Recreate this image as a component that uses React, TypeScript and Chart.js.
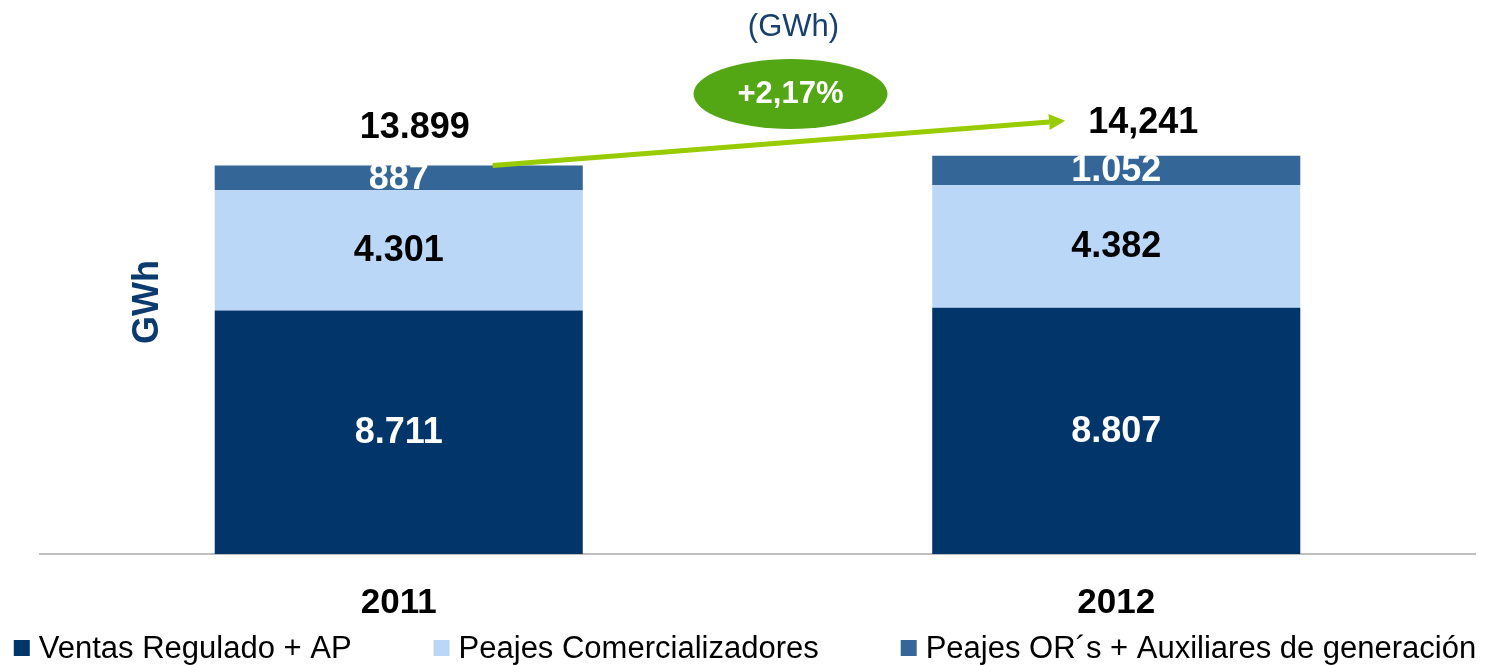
import { useEffect, useRef } from "react";
import { Chart, registerables } from "chart.js";
Chart.register(...registerables);

const categories = ["2011", "2012"];
const ventasRegulado = [8711, 8807];
const peajesComercializadores = [4301, 4382];
const peajesOR = [887, 1052];
const segmentLabels = [
  ["8.711", "8.807"],
  ["4.301", "4.382"],
  ["887", "1.052"],
];
const totalLabels = ["13.899", "14,241"];
const seriesNames = [
  "Ventas Regulado + AP",
  "Peajes Comercializadores",
  "Peajes OR´s + Auxiliares de generación",
];
const growthLabel = "+2,17%";
const unitTitle = "(GWh)";
const axisTitle = "GWh";

const FONT = "'Liberation Sans', Arial, sans-serif";
const NAVY = "#02356A";
const LIGHT = "#BBD7F7";
const MID = "#346797";
const seriesColors = [NAVY, LIGHT, MID];

const overlay = {
  id: "overlay",
  afterDatasetsDraw(chart: any) {
    const ctx = chart.ctx;
    const area = chart.chartArea;
    ctx.save();
    // segment labels
    chart.data.datasets.forEach((_: any, di: number) => {
      const meta = chart.getDatasetMeta(di);
      meta.data.forEach((el: any, i: number) => {
        const cy = (el.y + el.base) / 2;
        ctx.font = `bold 36px ${FONT}`;
        ctx.fillStyle = di === 1 ? "#000000" : "#FFFFFF";
        ctx.textAlign = "center";
        ctx.textBaseline = "middle";
        ctx.fillText(segmentLabels[di][i], el.x, cy + 1);
      });
    });
    const topMeta = chart.getDatasetMeta(chart.data.datasets.length - 1);
    const b0 = topMeta.data[0];
    const b1 = topMeta.data[1];
    // totals
    ctx.font = `bold 36px ${FONT}`;
    ctx.fillStyle = "#000000";
    ctx.textAlign = "center";
    ctx.textBaseline = "middle";
    ctx.fillText(totalLabels[0], b0.x + 16, b0.y - 37);
    ctx.fillText(totalLabels[1], b1.x + 27, b1.y - 33);
    // arrow
    const sx = b0.x + b0.width * 0.255;
    const sy = b0.y;
    const ex = b1.x - b1.width * 0.139;
    const ey = b1.y - 35;
    const ang = Math.atan2(ey - sy, ex - sx);
    const headLen = 16;
    ctx.strokeStyle = "#99CC00";
    ctx.fillStyle = "#99CC00";
    ctx.lineWidth = 5;
    ctx.beginPath();
    ctx.moveTo(sx, sy);
    ctx.lineTo(ex - headLen * Math.cos(ang), ey - headLen * Math.sin(ang));
    ctx.stroke();
    ctx.beginPath();
    ctx.moveTo(ex, ey);
    ctx.lineTo(
      ex - headLen * Math.cos(ang) + 8 * Math.sin(ang),
      ey - headLen * Math.sin(ang) - 8 * Math.cos(ang)
    );
    ctx.lineTo(
      ex - headLen * Math.cos(ang) - 8 * Math.sin(ang),
      ey - headLen * Math.sin(ang) + 8 * Math.cos(ang)
    );
    ctx.closePath();
    ctx.fill();
    // ellipse
    const midX = (b0.x + b1.x) / 2;
    const ecx = midX + 33;
    const ecy = area.top + 74;
    ctx.fillStyle = "#53A614";
    ctx.beginPath();
    ctx.ellipse(ecx, ecy, 97, 35, 0, 0, Math.PI * 2);
    ctx.fill();
    ctx.font = `bold 31px ${FONT}`;
    ctx.fillStyle = "#FFFFFF";
    ctx.fillText(growthLabel, ecx, ecy);
    // unit title
    ctx.font = `31px ${FONT}`;
    ctx.fillStyle = "#17406E";
    ctx.fillText(unitTitle, midX + 36, 27);
    // legend (manual)
    ctx.font = `31px ${FONT}`;
    const box = 16;
    const textGap = 9;
    const itemGap = 82;
    const widths = seriesNames.map((n) => ctx.measureText(n).width);
    const total =
      widths.reduce((a, b) => a + b, 0) + seriesNames.length * (box + textGap) + itemGap * (seriesNames.length - 1);
    let lx = (chart.width - total) / 2 - 4;
    const ly = 648;
    ctx.textAlign = "left";
    ctx.textBaseline = "middle";
    seriesNames.forEach((n, i) => {
      ctx.fillStyle = seriesColors[i];
      ctx.fillRect(lx, ly - box / 2, box, box);
      ctx.fillStyle = "#000000";
      ctx.fillText(n, lx + box + textGap, ly + 1);
      lx += box + textGap + widths[i] + itemGap;
    });
    // axis title
    ctx.textAlign = "center";
    ctx.translate(148, 302);
    ctx.rotate(-Math.PI / 2);
    ctx.font = `bold 36px ${FONT}`;
    ctx.fillStyle = "#0B3A6E";
    ctx.fillText(axisTitle, 0, 0);
    ctx.restore();
  },
};

export default function App() {
  const ref = useRef<HTMLCanvasElement | null>(null);
  useEffect(() => {
    if (!ref.current) return;
    const chart = new Chart(ref.current, {
      type: "bar",
      data: {
        labels: categories,
        datasets: [
          { label: seriesNames[0], data: ventasRegulado, backgroundColor: NAVY },
          { label: seriesNames[1], data: peajesComercializadores, backgroundColor: LIGHT },
          { label: seriesNames[2], data: peajesOR, backgroundColor: MID },
        ],
      },
      options: {
        animation: false,
        responsive: true,
        maintainAspectRatio: false,
        layout: { padding: { left: 40, right: 23, top: 20, bottom: 21 } },
        datasets: { bar: { categoryPercentage: 1, barPercentage: 0.513 } },
        scales: {
          x: {
            stacked: true,
            grid: { display: false },
            border: { display: true, color: "#BFBFBF", width: 2 },
            ticks: {
              color: "#000000",
              font: { family: FONT, size: 35, weight: "bold" },
              padding: 20,
            },
          },
          y: {
            stacked: true,
            display: false,
            min: 0,
            max: 19100,
          },
        },
        plugins: {
          legend: { display: false },
          tooltip: { enabled: false },
        },
      },
      plugins: [overlay],
    });
    return () => chart.destroy();
  }, []);
  return (
    <div style={{ position: "fixed", left: 0, top: 0, width: 1498, height: 665 }}>
      <canvas ref={ref} />
    </div>
  );
}
